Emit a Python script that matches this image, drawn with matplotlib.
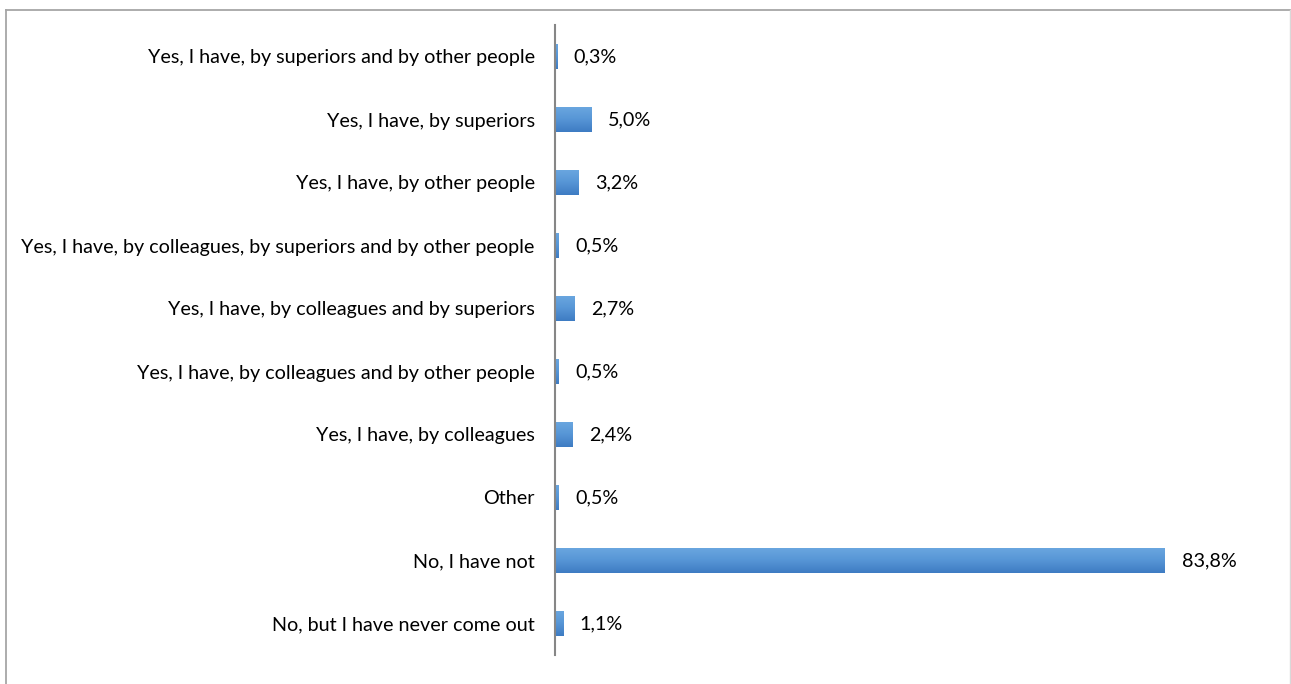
import numpy as np
import matplotlib
matplotlib.use("Agg")
import matplotlib.pyplot as plt
from matplotlib.lines import Line2D
from matplotlib.colors import LinearSegmentedColormap

# Survey answers, top to bottom as shown
categories = [
    "Yes, I have, by superiors and by other people",
    "Yes, I have, by superiors",
    "Yes, I have, by other people",
    "Yes, I have, by colleagues, by superiors and by other people",
    "Yes, I have, by colleagues and by superiors",
    "Yes, I have, by colleagues and by other people",
    "Yes, I have, by colleagues",
    "Other",
    "No, I have not",
    "No, but I have never come out",
]
values = [0.3, 5.0, 3.2, 0.5, 2.7, 0.5, 2.4, 0.5, 83.8, 1.1]
value_labels = ["0,3%", "5,0%", "3,2%", "0,5%", "2,7%", "0,5%", "2,4%", "0,5%", "83,8%", "1,1%"]

plt.rcParams["font.family"] = ["Lato", "DejaVu Sans"]
FS = 14.2

W, H = 1291, 684
fig = plt.figure(figsize=(W / 100, H / 100), dpi=100)
ax = fig.add_axes([555 / W, 1 - 655 / H, (1210 - 555) / W, (655 - 25) / H])

n = len(categories)
ypos = np.arange(n)
bars = ax.barh(ypos, values, height=0.41, color="#5b9bd5", edgecolor="none", zorder=2)

# vertical gradient fill for each bar
grad = LinearSegmentedColormap.from_list("bluegrad", ["#6ba7e0", "#5796d6", "#3e7cc3"])
gimg = np.linspace(0, 1, 64).reshape(-1, 1)
for b in bars:
    x0, y0 = b.get_x(), b.get_y()
    w, h = b.get_width(), b.get_height()
    im = ax.imshow(gimg, cmap=grad, aspect="auto", origin="upper",
                   extent=(x0, x0 + w, y0 + h, y0), zorder=3, interpolation="bilinear")
    im.set_clip_path(b)

ax.set_xlim(0, 90)
ax.set_ylim(n - 0.5, -0.5)

for y, v, lab in zip(ypos, values, value_labels):
    ax.annotate(lab, xy=(v, y), xytext=(12, 0), textcoords="offset points",
                ha="left", va="center", fontsize=FS, color="#000000")

ax.set_yticks(ypos)
ax.set_yticklabels(categories, fontsize=FS, color="#000000")
ax.tick_params(axis="y", length=0, pad=14.5)
ax.set_xticks([])

for s in ["top", "right", "bottom"]:
    ax.spines[s].set_visible(False)
ax.spines["left"].set_color("#868686")
ax.spines["left"].set_linewidth(1.5)
ax.spines["left"].set_zorder(4)

# chart frame
fig.add_artist(Line2D([6 / W, 6 / W], [0, 1 - 9.5 / H], color="#a6a6a6", lw=1.3,
                      transform=fig.transFigure))
fig.add_artist(Line2D([6 / W, 1290 / W], [1 - 9.5 / H, 1 - 9.5 / H], color="#a6a6a6", lw=1.3,
                      transform=fig.transFigure))
fig.add_artist(Line2D([1290 / W, 1290 / W], [0, 1 - 9.5 / H], color="#d9d9d9", lw=1.0,
                      transform=fig.transFigure))

fig.savefig("out.png", dpi=100)
